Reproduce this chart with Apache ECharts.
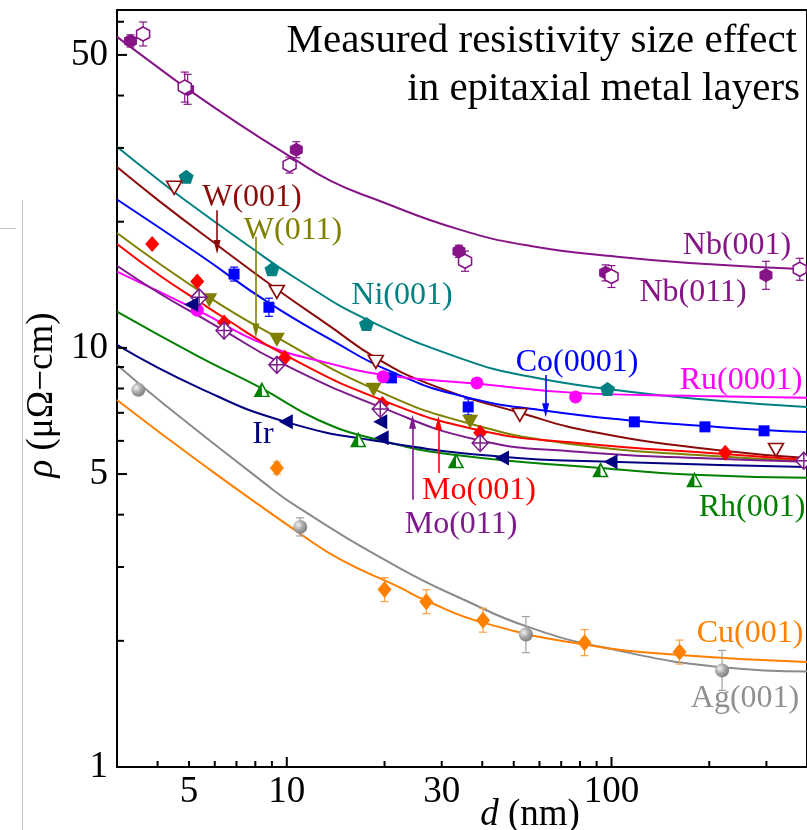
<!DOCTYPE html>
<html><head><meta charset="utf-8">
<script src="https://cdn.jsdelivr.net/npm/echarts@6/dist/echarts.min.js"></script>
<style>html,body{margin:0;padding:0;background:#fff;}#c{width:807px;height:830px;}</style>
</head><body><div id="c"></div>
<script>
// ---- axes / ticks ----
const X_MIN = 3, X_MAX = 400, Y_MIN = 1, Y_MAX = 64;
const xTicksMajor = [10, 100];
const xTicksMinor = [4, 5, 6, 7, 8, 9, 20, 30, 40, 50, 60, 70, 80, 90, 200, 300];
const xTickLabels = [5, 10, 30, 100];
const yTicksMajor = [5, 10, 50];
const yTicksMinor = [2, 3, 4, 6, 7, 8, 9, 20, 30, 40, 60];
const yTickLabels = [1, 5, 10, 50];

// ---- fit curves (d in nm, rho in µΩ-cm) ----
const nbFit_d = [3.0, 3.77, 4.9, 7.13, 10.4, 13.7, 18.8, 33.7, 56.4, 104, 184, 400];
const nbFit_rho = [55.2, 48.4, 41.7, 34.2, 28.4, 25.0, 22.6, 19.2, 17.5, 16.5, 15.9, 15.4];
const niFit_d = [3.0, 3.77, 4.83, 7.64, 10.9, 17.6, 35.4, 56.4, 97.2, 201, 400];
const niFit_rho = [30.2, 26.2, 22.6, 17.5, 14.5, 11.7, 9.36, 8.53, 7.98, 7.51, 7.23];
const w001Fit_d = [3.0, 4.05, 6.10, 9.32, 13.5, 18.8, 27.9, 52.2, 90.6, 222, 400];
const w001Fit_rho = [27.0, 22.4, 17.6, 13.8, 11.3, 9.47, 8.16, 7.0, 6.27, 5.68, 5.46];
const w011Fit_d = [3.0, 5.77, 9.32, 18.5, 36.7, 78.6, 184, 400];
const w011Fit_rho = [18.8, 13.2, 10.6, 7.98, 6.59, 5.87, 5.55, 5.37];
const coFit_d = [3.0, 5.37, 8.81, 13.7, 21.0, 35.4, 63.6, 118.5, 194, 295, 400];
const coFit_rho = [22.6, 16.7, 12.8, 10.45, 8.77, 7.64, 7.07, 6.70, 6.51, 6.37, 6.30];
const ruFit_d = [3.0, 5.30, 8.62, 13.7, 19.8, 38.8, 77.5, 184, 400];
const ruFit_rho = [15.2, 12.3, 10.17, 9.16, 8.62, 8.21, 7.81, 7.68, 7.60];
const mo001Fit_d = [3.0, 4.05, 5.37, 6.41, 9.86, 19.6, 38.8, 78.6, 222, 400];
const mo001Fit_rho = [17.7, 14.9, 12.9, 11.8, 9.62, 7.51, 6.37, 5.93, 5.58, 5.40];
const mo011Fit_d = [3.0, 4.05, 5.37, 6.41, 9.32, 19.4, 38.8, 78.6, 184, 400];
const mo011Fit_rho = [15.7, 13.5, 11.9, 11.0, 9.31, 7.23, 6.03, 5.65, 5.46, 5.35];
const rhFit_d = [3.0, 5.37, 8.32, 12.5, 19.2, 33.2, 92.5, 180, 400];
const rhFit_rho = [12.2, 9.52, 8.03, 6.73, 6.03, 5.55, 5.17, 4.98, 4.90];
const irFit_d = [3.0, 5.37, 9.93, 19.7, 46.0, 99.3, 400];
const irFit_rho = [10.17, 8.03, 6.66, 5.97, 5.50, 5.35, 5.20];
const agFit_d = [3.0, 3.96, 8.44, 10.9, 22.1, 35.4, 55.3, 97.2, 219, 400];
const agFit_rho = [9.11, 7.60, 4.79, 4.15, 2.99, 2.50, 2.16, 1.92, 1.73, 1.69];
const cuFit_d = [3.0, 5.37, 10.9, 14.7, 22.1, 26.7, 40.2, 82.6, 162, 400];
const cuFit_rho = [7.51, 5.35, 3.62, 3.12, 2.69, 2.50, 2.21, 1.96, 1.85, 1.78];

// ---- measured points (err = relative half-width, %) ----
const nb001_d = [3.30, 4.95, 10.7, 33.9, 95.9, 299];
const nb001_rho = [54.0, 41.4, 29.7, 17.0, 15.1, 14.9];
const nb001_err = [3.4, 8.6, 4.5, 3.4, 4.5, 8.0];
const nb011_d = [3.61, 4.85, 10.2, 35.4, 100, 380];
const nb011_rho = [56.1, 41.9, 27.3, 16.1, 14.8, 15.4];
const nb011_err = [6.8, 8.6, 4.5, 5.7, 6.2, 6.2];
const ni001_d = [4.90, 9.0, 17.6, 97.2];
const ni001_rho = [25.6, 15.4, 11.4, 7.98];
const w001_d = [4.50, 9.32, 18.8, 52.2, 321];
const w001_rho = [24.1, 13.6, 9.26, 6.92, 5.71];
const w011_d = [5.77, 9.32, 18.5, 36.7];
const w011_rho = [13.0, 10.45, 7.94, 6.66];
const co_d = [6.88, 8.81, 21.0, 36.2, 117.6, 194, 295];
const co_rho = [15.0, 12.5, 8.48, 7.23, 6.66, 6.48, 6.34];
const co_err = [3.9, 5.1, 0, 4.5, 0, 0, 0];
const ru_d = [5.30, 19.8, 38.5, 77.5];
const ru_rho = [12.3, 8.53, 8.25, 7.64];
const mo001_d = [3.85, 5.30, 6.41, 9.86, 19.7, 39.4, 224];
const mo001_rho = [17.7, 14.4, 11.5, 9.47, 7.35, 6.27, 5.62];
const mo011_d = [5.37, 6.41, 9.32, 19.4, 39.4, 391];
const mo011_rho = [13.2, 11.0, 9.11, 7.15, 5.93, 5.38];
const rh_d = [8.38, 16.6, 33.2, 92.5, 180];
const rh_rho = [7.94, 6.03, 5.37, 5.11, 4.84];
const ir_d = [5.08, 9.93, 19.4, 19.6, 46.0, 99.3];
const ir_rho = [12.7, 6.66, 6.66, 6.10, 5.46, 5.35];
const ag_d = [3.49, 11.0, 54.5, 219];
const ag_rho = [7.94, 3.74, 2.07, 1.70];
const ag_err = [0, 5.1, 10.4, 11.6];
const cu_d = [9.32, 20.0, 26.9, 40.2, 82.6, 162];
const cu_rho = [5.17, 2.65, 2.48, 2.24, 1.98, 1.88];
const cu_err = [3.3, 6.8, 6.8, 6.8, 7.4, 6.8];

// ---- colours ----
const C = {
  nb: '#861486', ni: '#008080', w001: '#8b0a0a', w011: '#808000', co: '#0000ff',
  ru: '#ff00ff', mo001: '#ff0000', mo011: '#7d1a8c', rh: '#008000', ir: '#000080',
  ag: '#8a8a8a', cu: '#ff8000'
};
const FONT = '"Liberation Serif", "DejaVu Serif", serif';

function zip(a, b) { return a.map((v, i) => [v, b[i]]); }
function fit(d, r, color) {
  return { type: 'line', data: zip(d, r), showSymbol: false, smooth: 0.5,
    lineStyle: { color: color, width: 2 }, z: 2, silent: true, animation: false };
}
function pts(d, r, symbol, size, fill, stroke, bw, extra) {
  return Object.assign({ type: 'scatter', data: zip(d, r), symbol: symbol, symbolSize: size,
    itemStyle: { color: fill, borderColor: stroke || fill, borderWidth: bw || 0, opacity: 1 },
    z: 5, silent: true, animation: false }, extra || {});
}
function errBars(d, r, err, color) {
  const data = [];
  d.forEach((x, i) => { if (err[i] > 0) { const e = err[i] / 100; data.push([x, r[i] / (1 + e), r[i] * (1 + e)]); } });
  return { type: 'custom', data: data, z: 4, silent: true, animation: false, clip: false,
    encode: { x: 0, y: [1, 2] },
    renderItem: function (p, api) {
      const a = api.coord([api.value(0), api.value(1)]);
      const b = api.coord([api.value(0), api.value(2)]);
      const st = { stroke: color, lineWidth: 1.2 };
      return { type: 'group', children: [
        { type: 'line', shape: { x1: a[0], y1: a[1], x2: b[0], y2: b[1] }, style: st },
        { type: 'line', shape: { x1: a[0] - 4, y1: a[1], x2: a[0] + 4, y2: a[1] }, style: st },
        { type: 'line', shape: { x1: b[0] - 4, y1: b[1], x2: b[0] + 4, y2: b[1] }, style: st }
      ] };
    } };
}
function ticks(vals, axis, len) {
  const data = vals.map(v => axis === 'x' ? [v, Y_MIN] : [X_MIN, v]);
  return { type: 'custom', data: data, z: 10, silent: true, animation: false, clip: false,
    renderItem: function (p, api) {
      const c = api.coord([api.value(0), api.value(1)]);
      const shape = axis === 'x' ? { x1: c[0], y1: c[1], x2: c[0], y2: c[1] - len }
                                 : { x1: c[0], y1: c[1], x2: c[0] + len, y2: c[1] };
      return { type: 'line', shape: shape, style: { stroke: '#000', lineWidth: 2 } };
    } };
}
function tickLabels(vals, axis) {
  const data = vals.map(v => axis === 'x' ? [v, Y_MIN] : [X_MIN, v]);
  return { type: 'custom', data: data, z: 10, silent: true, animation: false, clip: false,
    renderItem: function (p, api) {
      const c = api.coord([api.value(0), api.value(1)]);
      const v = axis === 'x' ? api.value(0) : api.value(1);
      const isX = axis === 'x';
      return { type: 'text', x: isX ? c[0] : c[0] - 9, y: isX ? c[1] + 25 : c[1],
        style: { text: String(v), font: '37px ' + FONT, fill: '#000',
          align: isX ? 'center' : 'right', textAlign: isX ? 'center' : 'right',
          verticalAlign: 'middle', textVerticalAlign: 'middle' } };
    } };
}
function arrow(d, r0, r1, color) {
  return { type: 'line', data: [], silent: true, animation: false,
    markLine: { silent: true, animation: false, symbol: ['none', 'triangle'], symbolSize: [7, 14],
      label: { show: false }, lineStyle: { color: color, width: 1.6, type: 'solid' },
      data: [[{ coord: [d, r0] }, { coord: [d, r1] }]] } };
}

const hexPath = 'path://M0,-1 L0.866,-0.5 L0.866,0.5 L0,1 L-0.866,0.5 L-0.866,-0.5Z';
const pentPath = 'path://M0,-1 L0.951,-0.309 L0.588,0.809 L-0.588,0.809 L-0.951,-0.309Z';
const downTri = 'path://M-1,-0.85 L1,-0.85 L0,0.9Z';
const leftTri = 'path://M-1,0 L0.85,-1 L0.85,1Z';
const crossDiamond = 'path://M0,-1 L0.75,0 L0,1 L-0.75,0Z M0,-1 L0,1 M-0.75,0 L0.75,0';
const halfTri = 'path://M0,-1 L0,0.8 L-1,0.8Z';
const agGrad = { type: 'radial', x: 0.35, y: 0.35, r: 0.8,
  colorStops: [{ offset: 0, color: '#f2f2f2' }, { offset: 0.45, color: '#a8a8a8' }, { offset: 1, color: '#6e6e6e' }] };

const series = [
  fit(nbFit_d, nbFit_rho, C.nb), fit(niFit_d, niFit_rho, C.ni), fit(w001Fit_d, w001Fit_rho, C.w001),
  fit(w011Fit_d, w011Fit_rho, C.w011), fit(coFit_d, coFit_rho, C.co), fit(ruFit_d, ruFit_rho, C.ru),
  fit(mo001Fit_d, mo001Fit_rho, C.mo001), fit(mo011Fit_d, mo011Fit_rho, C.mo011), fit(rhFit_d, rhFit_rho, C.rh),
  fit(irFit_d, irFit_rho, C.ir), fit(agFit_d, agFit_rho, C.ag), fit(cuFit_d, cuFit_rho, C.cu),
  errBars(nb001_d, nb001_rho, nb001_err, C.nb), errBars(nb011_d, nb011_rho, nb011_err, C.nb),
  errBars(co_d, co_rho, co_err, C.co), errBars(ag_d, ag_rho, ag_err, '#a0a0a0'), errBars(cu_d, cu_rho, cu_err, '#ffa040'),
  pts(nb001_d, nb001_rho, hexPath, [13, 14], C.nb),
  pts(nb011_d, nb011_rho, hexPath, [13, 14], '#fff', C.nb, 1.6),
  pts(ni001_d, ni001_rho, pentPath, [15, 14], C.ni),
  pts(w001_d, w001_rho, downTri, [15, 13], '#fff', C.w001, 1.6),
  pts(w011_d, w011_rho, downTri, [16, 14], C.w011),
  pts(co_d, co_rho, 'rect', [11, 11], C.co),
  pts(ru_d, ru_rho, 'circle', 13, C.ru),
  pts(mo001_d, mo001_rho, 'diamond', [14, 16], C.mo001),
  pts(mo011_d, mo011_rho, crossDiamond, [16, 17], '#fff', C.mo011, 1.5),
  pts(rh_d, rh_rho, 'triangle', [14, 13], '#fff', C.rh, 1.5),
  pts(rh_d, rh_rho, halfTri, [7, 13], C.rh, C.rh, 0, { symbolOffset: [-3.5, 0], z: 6 }),
  pts(ir_d, ir_rho, leftTri, [14, 15], C.ir),
  pts(ag_d, ag_rho, 'circle', 14, agGrad),
  pts(cu_d, cu_rho, 'diamond', [14, 17], C.cu),
  arrow(6.10, 21.3, 17.4, C.w001),
  arrow(8.03, 18.4, 11.0, C.w011),
  arrow(62.7, 8.62, 7.10, C.co),
  arrow(29.3, 5.03, 6.62, C.mo001),
  arrow(24.4, 4.34, 6.66, C.mo011),
  ticks(xTicksMajor, 'x', 10), ticks(xTicksMinor, 'x', 6),
  ticks(yTicksMajor, 'y', 10), ticks(yTicksMinor, 'y', 7),
  tickLabels(xTickLabels, 'x'), tickLabels(yTickLabels, 'y')
];

function label(text, x, y, color, size, align) {
  return { type: 'text', x: x, y: y, silent: true, z: 20,
    style: { text: text, font: (size || 32) + 'px ' + FONT, fill: color,
      align: align || 'center', textAlign: align || 'center', verticalAlign: 'middle', textVerticalAlign: 'middle' } };
}

const graphics = [
  { type: 'line', silent: true, shape: { x1: 22.5, y1: 200, x2: 22.5, y2: 830 }, style: { stroke: '#c4c4c4', lineWidth: 1 } },
  { type: 'line', silent: true, shape: { x1: 0, y1: 228.5, x2: 16, y2: 228.5 }, style: { stroke: '#c4c4c4', lineWidth: 1 } },
  label('Measured resistivity size effect', 797, 41, '#000', 41, 'right'),
  label('in epitaxial metal layers', 800, 89, '#000', 41, 'right'),
  label('Nb(001)', 737, 246, C.nb), label('Nb(011)', 693, 293, C.nb),
  label('Ni(001)', 402, 296, C.ni), label('W(001)', 252, 198, C.w001),
  label('W(011)', 293, 231, C.w011), label('Co(0001)', 577, 363, C.co),
  label('Ru(0001)', 741, 381, C.ru), label('Ir', 263, 435, C.ir),
  label('Mo(001)', 479, 491, C.mo001), label('Mo(011)', 461, 525, C.mo011),
  label('Rh(001)', 752, 508, C.rh), label('Cu(001)', 750, 634, C.cu),
  label('Ag(001)', 745, 699, '#909090'),
  { type: 'text', x: 530, y: 815, silent: true, z: 20,
    style: { text: '{i|d} (nm)', font: '37px ' + FONT, fill: '#000', align: 'center', textAlign: 'center',
      verticalAlign: 'middle', textVerticalAlign: 'middle',
      rich: { i: { font: 'italic 37px ' + FONT, fill: '#000' } } } },
  { type: 'text', x: 42, y: 395, rotation: Math.PI / 2, silent: true, z: 20,
    style: { text: '{i|ρ} (μΩ−cm)', font: '37px ' + FONT, fill: '#000', align: 'center', textAlign: 'center',
      verticalAlign: 'middle', textVerticalAlign: 'middle',
      rich: { i: { font: 'italic 37px ' + FONT, fill: '#000' } } } }
];

const chart = echarts.init(document.getElementById('c'), null, { renderer: 'canvas' });
chart.setOption({
  animation: false,
  backgroundColor: '#fff',
  grid: { left: 117, top: 10, width: 693, height: 757, show: true, borderColor: '#000', borderWidth: 2, backgroundColor: 'transparent', containLabel: false },
  xAxis: { type: 'log', logBase: 10, min: X_MIN, max: X_MAX, axisLine: { show: true, lineStyle: { color: '#000', width: 2 } },
    axisTick: { show: false }, axisLabel: { show: false }, splitLine: { show: false }, minorTick: { show: false } },
  yAxis: { type: 'log', logBase: 10, min: Y_MIN, max: Y_MAX, axisLine: { show: true, lineStyle: { color: '#000', width: 2 } },
    axisTick: { show: false }, axisLabel: { show: false }, splitLine: { show: false }, minorTick: { show: false } },
  series: series,
  graphic: graphics
});
</script></body></html>
